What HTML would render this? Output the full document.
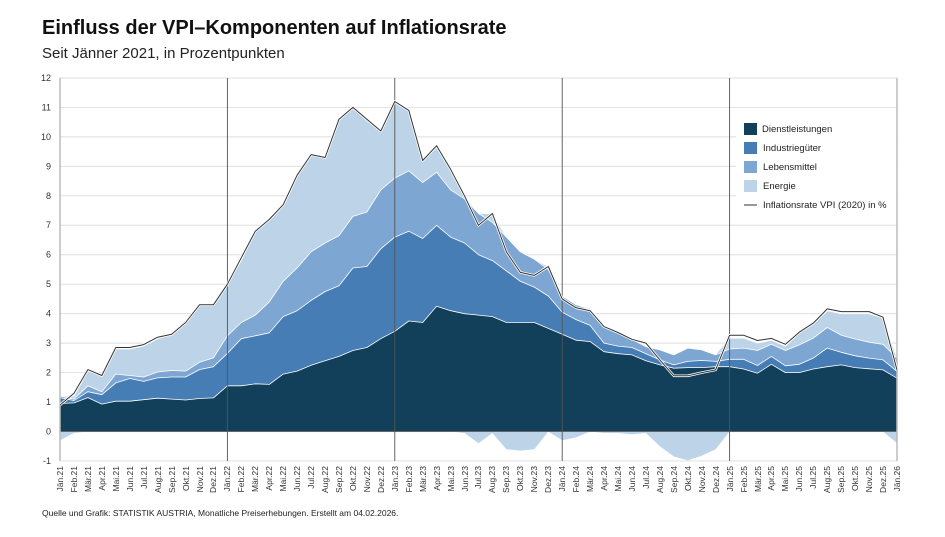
<!DOCTYPE html>
<html><head><meta charset="utf-8"><style>
body{margin:0;background:#fff;width:945px;height:532px;overflow:hidden;font-family:"Liberation Sans",sans-serif}
svg text{font-family:"Liberation Sans",sans-serif}
</style></head><body>
<svg id="s" width="945" height="532" viewBox="0 0 945 532" xmlns="http://www.w3.org/2000/svg">
<text x="42" y="34" font-size="20" font-weight="bold" fill="#111">Einfluss der VPI–Komponenten auf Inflationsrate</text>
<text x="42" y="58" font-size="15" fill="#222">Seit Jänner 2021, in Prozentpunkten</text>
<g id="grid"></g>
<g id="areas"></g>
<g font-size="9" fill="#333" text-anchor="end">
<text x="51" y="81">12</text><text x="51" y="110.5">11</text><text x="51" y="140">10</text><text x="51" y="169.5">9</text><text x="51" y="199">8</text><text x="51" y="228">7</text><text x="51" y="257.5">6</text><text x="51" y="287">5</text><text x="51" y="316.5">4</text><text x="51" y="346">3</text><text x="51" y="375.5">2</text><text x="51" y="405">1</text><text x="51" y="434.5">0</text><text x="51" y="464">-1</text>
</g>
<g font-size="8.5" fill="#333" text-anchor="end">
<text transform="translate(63,466) rotate(-90)">Jän.21</text>
<text transform="translate(77,466) rotate(-90)">Feb.21</text>
<text transform="translate(91,466) rotate(-90)">Mär.21</text>
<text transform="translate(105,466) rotate(-90)">Apr.21</text>
<text transform="translate(119,466) rotate(-90)">Mai.21</text>
<text transform="translate(133,466) rotate(-90)">Jun.21</text>
<text transform="translate(147,466) rotate(-90)">Jul.21</text>
<text transform="translate(161,466) rotate(-90)">Aug.21</text>
<text transform="translate(175,466) rotate(-90)">Sep.21</text>
<text transform="translate(189,466) rotate(-90)">Okt.21</text>
<text transform="translate(203,466) rotate(-90)">Nov.21</text>
<text transform="translate(216,466) rotate(-90)">Dez.21</text>
<text transform="translate(230,466) rotate(-90)">Jän.22</text>
<text transform="translate(244,466) rotate(-90)">Feb.22</text>
<text transform="translate(258,466) rotate(-90)">Mär.22</text>
<text transform="translate(272,466) rotate(-90)">Apr.22</text>
<text transform="translate(286,466) rotate(-90)">Mai.22</text>
<text transform="translate(300,466) rotate(-90)">Jun.22</text>
<text transform="translate(314,466) rotate(-90)">Jul.22</text>
<text transform="translate(328,466) rotate(-90)">Aug.22</text>
<text transform="translate(342,466) rotate(-90)">Sep.22</text>
<text transform="translate(356,466) rotate(-90)">Okt.22</text>
<text transform="translate(370,466) rotate(-90)">Nov.22</text>
<text transform="translate(384,466) rotate(-90)">Dez.22</text>
<text transform="translate(398,466) rotate(-90)">Jän.23</text>
<text transform="translate(412,466) rotate(-90)">Feb.23</text>
<text transform="translate(426,466) rotate(-90)">Mär.23</text>
<text transform="translate(440,466) rotate(-90)">Apr.23</text>
<text transform="translate(454,466) rotate(-90)">Mai.23</text>
<text transform="translate(468,466) rotate(-90)">Jun.23</text>
<text transform="translate(481,466) rotate(-90)">Jul.23</text>
<text transform="translate(495,466) rotate(-90)">Aug.23</text>
<text transform="translate(509,466) rotate(-90)">Sep.23</text>
<text transform="translate(523,466) rotate(-90)">Okt.23</text>
<text transform="translate(537,466) rotate(-90)">Nov.23</text>
<text transform="translate(551,466) rotate(-90)">Dez.23</text>
<text transform="translate(565,466) rotate(-90)">Jän.24</text>
<text transform="translate(579,466) rotate(-90)">Feb.24</text>
<text transform="translate(593,466) rotate(-90)">Mär.24</text>
<text transform="translate(607,466) rotate(-90)">Apr.24</text>
<text transform="translate(621,466) rotate(-90)">Mai.24</text>
<text transform="translate(635,466) rotate(-90)">Jun.24</text>
<text transform="translate(649,466) rotate(-90)">Jul.24</text>
<text transform="translate(663,466) rotate(-90)">Aug.24</text>
<text transform="translate(677,466) rotate(-90)">Sep.24</text>
<text transform="translate(691,466) rotate(-90)">Okt.24</text>
<text transform="translate(705,466) rotate(-90)">Nov.24</text>
<text transform="translate(719,466) rotate(-90)">Dez.24</text>
<text transform="translate(733,466) rotate(-90)">Jän.25</text>
<text transform="translate(747,466) rotate(-90)">Feb.25</text>
<text transform="translate(761,466) rotate(-90)">Mär.25</text>
<text transform="translate(774,466) rotate(-90)">Apr.25</text>
<text transform="translate(788,466) rotate(-90)">Mai.25</text>
<text transform="translate(802,466) rotate(-90)">Jun.25</text>
<text transform="translate(816,466) rotate(-90)">Jul.25</text>
<text transform="translate(830,466) rotate(-90)">Aug.25</text>
<text transform="translate(844,466) rotate(-90)">Sep.25</text>
<text transform="translate(858,466) rotate(-90)">Okt.25</text>
<text transform="translate(872,466) rotate(-90)">Nov.25</text>
<text transform="translate(886,466) rotate(-90)">Dez.25</text>
<text transform="translate(900,466) rotate(-90)">Jän.26</text>
</g>
<rect x="736" y="110" width="160" height="106" fill="#fff"/>
<rect x="744" y="123" width="13" height="12" fill="#123f5a"/>
<rect x="744" y="142" width="13" height="12" fill="#467db4"/>
<rect x="744" y="161" width="13" height="12" fill="#7ea6d2"/>
<rect x="744" y="180" width="13" height="12" fill="#bcd3e8"/>
<line x1="744" y1="205" x2="757" y2="205" stroke="#333" stroke-width="1"/>
<g font-size="9.5" fill="#222">
<text x="762" y="132">Dienstleistungen</text>
<text x="763" y="151">Industriegüter</text>
<text x="763" y="170">Lebensmittel</text>
<text x="763" y="189">Energie</text>
<text x="763" y="208">Inflationsrate VPI (2020) in %</text>
</g>
<text x="42" y="516" font-size="8.5" fill="#222">Quelle und Grafik: STATISTIK AUSTRIA, Monatliche Preiserhebungen. Erstellt am 04.02.2026.</text>
</svg>
<script>
var D=[0.95,0.97,1.15,0.93,1.03,1.03,1.08,1.13,1.1,1.07,1.12,1.14,1.55,1.55,1.62,1.6,1.95,2.05,2.25,2.4,2.55,2.75,2.85,3.15,3.4,3.75,3.7,4.25,4.1,4.0,3.95,3.9,3.7,3.7,3.7,3.5,3.3,3.1,3.05,2.71,2.64,2.6,2.4,2.26,2.15,2.17,2.17,2.2,2.2,2.12,1.98,2.28,2.0,2.0,2.12,2.2,2.26,2.17,2.13,2.09,1.81];
var DI=[1.15,1.05,1.35,1.25,1.65,1.8,1.7,1.82,1.85,1.85,2.1,2.2,2.65,3.15,3.25,3.35,3.9,4.1,4.45,4.75,4.95,5.55,5.6,6.2,6.6,6.8,6.55,7.0,6.6,6.4,6.0,5.8,5.45,5.1,4.9,4.6,4.05,3.8,3.6,3.0,2.9,2.85,2.64,2.43,2.26,2.38,2.41,2.38,2.45,2.45,2.24,2.55,2.23,2.28,2.49,2.83,2.69,2.57,2.49,2.43,2.04];
var DIL=[1.2,1.1,1.55,1.35,1.95,1.9,1.85,2.02,2.07,2.05,2.35,2.5,3.25,3.7,3.95,4.4,5.1,5.55,6.1,6.4,6.65,7.3,7.45,8.2,8.6,8.85,8.45,8.8,8.2,7.9,7.4,7.1,6.6,6.1,5.85,5.5,4.6,4.3,4.15,3.56,3.34,3.13,2.88,2.77,2.6,2.83,2.77,2.6,2.8,2.83,2.75,2.96,2.75,2.94,3.17,3.53,3.27,3.14,3.03,2.96,2.49];
var E=[1.2,1.2,2.05,1.95,2.8,2.8,2.9,3.15,3.3,3.75,4.3,4.3,5.0,5.8,6.8,7.2,7.7,8.7,9.4,9.3,10.6,11.0,10.6,10.2,11.2,10.9,9.2,9.7,8.9,8.0,7.4,7.4,6.6,6.1,5.85,5.6,4.6,4.3,4.2,3.56,3.34,3.13,2.88,2.77,2.6,2.83,2.77,2.62,3.17,3.17,3.0,3.1,2.9,3.34,3.65,4.1,4.0,4.0,4.0,3.85,2.49];
var N=[-0.3,-0.05,0,0,0,0,0,0,0,0,0,0,0,0,0,0,0,0,0,0,0,0,0,0,0,0,0,0,0,-0.05,-0.4,-0.05,-0.6,-0.65,-0.6,0,-0.3,-0.2,0,-0.05,-0.05,-0.1,-0.05,-0.5,-0.85,-0.98,-0.82,-0.6,0,0,0,0,0,0,0,0,0,0,0,0,-0.4];
var L=[0.9,1.3,2.1,1.9,2.85,2.85,2.95,3.2,3.3,3.7,4.3,4.3,5.0,5.9,6.8,7.2,7.7,8.7,9.4,9.3,10.6,11.0,10.6,10.2,11.2,10.9,9.2,9.7,8.9,8.0,7.0,7.4,6.1,5.4,5.3,5.6,4.5,4.2,4.1,3.56,3.36,3.13,3.0,2.43,1.89,1.89,2.0,2.09,3.27,3.27,3.09,3.16,2.96,3.37,3.68,4.16,4.07,4.07,4.07,3.88,2.09];
function X(i){return 60+i*13.95}function Y(v){return 431.5-v*29.46}
var ns="http://www.w3.org/2000/svg",g=document.getElementById('grid'),a=document.getElementById('areas');
function el(p,t,at){var e=document.createElementNS(ns,t);for(var k in at)e.setAttribute(k,at[k]);p.appendChild(e);return e}
for(var v=-1;v<=12;v++)el(g,'line',{x1:60,x2:897,y1:Y(v),y2:Y(v),stroke:'#e4e4e4','stroke-width':1.2});
function area(arr,col){var d='M'+X(0)+','+Y(0);for(var i=0;i<61;i++)d+='L'+X(i).toFixed(1)+','+Y(arr[i]).toFixed(1);d+='L'+X(60)+','+Y(0)+'Z';el(a,'path',{d:d,fill:col,stroke:'#fff','stroke-width':0.8,'stroke-linejoin':'round'})}
area(E,'#bcd3e8');area(DIL,'#7ea6d2');area(DI,'#467db4');area(D,'#123f5a');
var d='M'+X(0)+','+Y(0);for(var i=0;i<61;i++)d+='L'+X(i).toFixed(1)+','+Y(N[i]).toFixed(1);d+='L'+X(60)+','+Y(0)+'Z';el(a,'path',{d:d,fill:'#bcd3e8'});
el(a,'line',{x1:60,x2:897,y1:Y(0),y2:Y(0),stroke:'#666','stroke-width':1});
el(a,'line',{x1:60,x2:60,y1:78,y2:461,stroke:'#bbb','stroke-width':1.5});
el(a,'line',{x1:897,x2:897,y1:78,y2:461,stroke:'#bbb','stroke-width':1.5});
[12,24,36,48].forEach(function(i){el(a,'line',{x1:X(i),x2:X(i),y1:78,y2:461,stroke:'#555','stroke-width':0.9})});
var p='';for(var i=0;i<61;i++)p+=(i?'L':'M')+X(i).toFixed(1)+','+Y(L[i]).toFixed(1);
el(a,'path',{d:p,fill:'none',stroke:'#fff','stroke-width':2.6,'stroke-linejoin':'round'});
el(a,'path',{d:p,fill:'none',stroke:'#333','stroke-width':1,'stroke-linejoin':'round'});
</script>
</body></html>
